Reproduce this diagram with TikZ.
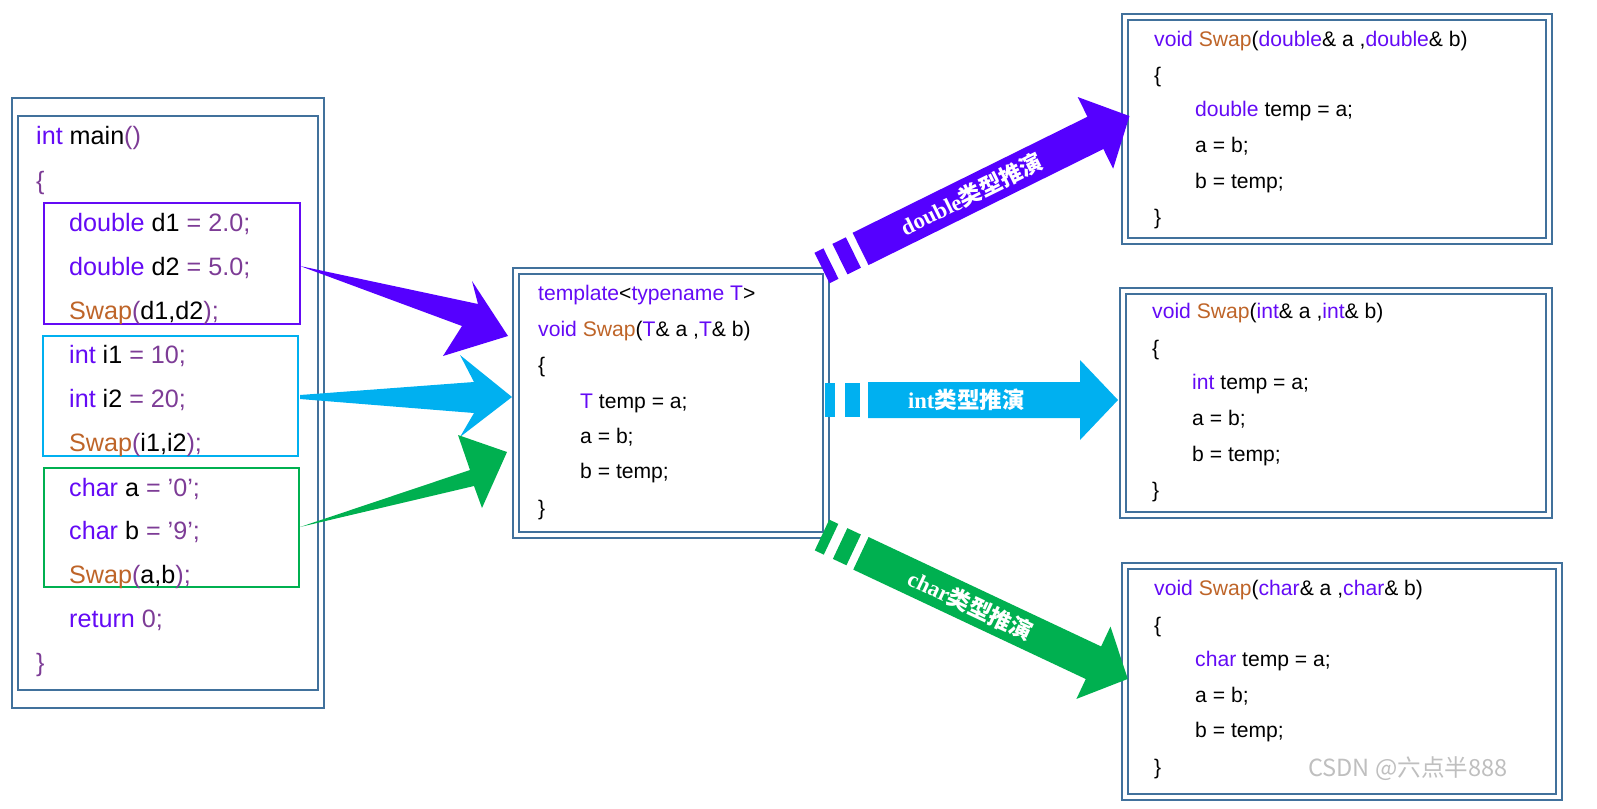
\documentclass[tikz,border=0pt]{standalone}
\usepackage{fontspec}
\setmainfont{Liberation Sans}
\newfontfamily\cjk{Noto Sans CJK SC}
\newfontfamily\lser{Liberation Serif}
\definecolor{kw}{RGB}{100,10,245}
\definecolor{num}{RGB}{125,60,150}
\definecolor{fn}{RGB}{190,100,40}
\definecolor{frame}{RGB}{65,113,156}
\definecolor{ap}{RGB}{85,0,255}
\definecolor{ac}{RGB}{0,176,240}
\definecolor{ag}{RGB}{0,176,80}
\newcommand{\K}[1]{\textcolor{kw}{#1}}
\newcommand{\N}[1]{\textcolor{num}{#1}}
\newcommand{\F}[1]{\textcolor{fn}{#1}}
\newcommand{\stripearrow}[4]{% length, colour, label, node name
  \fill[#2] (0,-17) rectangle (10,17);
  \fill[#2] (20,-17) rectangle (35,17);
  \fill[#2] (43,-18) -- (#1-38,-18) -- (#1-38,-40) -- (#1,0) -- (#1-38,40) -- (#1-38,18) -- (43,18) -- cycle;
  \node[transform shape,text=white,font=\bfseries\fontsize{23}{25}\selectfont] (#4) at ({(#1)/2-5},0) {#3};}
\begin{document}
\begin{tikzpicture}[x=1.018pt,y=-1.018pt,
  boxline/.style={draw=frame,line width=2.5pt},
  codeL/.style={anchor=base west,inner sep=0pt,font=\fontsize{25.6}{28}\selectfont},
  codeR/.style={anchor=base west,inner sep=0pt,font=\fontsize{21.5}{24}\selectfont}]
\useasboundingbox (0,0) rectangle (1597,808);
% left box
\draw[boxline] (12,98) rectangle (324,708);
\draw[boxline] (18,116) rectangle (318,690);
\draw[kw,line width=2.5pt] (44,203) rectangle (300,324);
\draw[ac,line width=2.5pt] (43,336) rectangle (298,456);
\draw[ag,line width=2.5pt] (44,468) rectangle (299,587);
\node[codeL] (l1) at (36,144) {\K{int} main\N{()}};
\node[codeL] (l2) at (36,189) {\N{\{}};
\node[codeL] (l3) at (69,231) {\K{double} d1 \N{= 2.0;}};
\node[codeL] (l4) at (69,275) {\K{double} d2 \N{= 5.0;}};
\node[codeL] (l5) at (69,319) {\F{Swap}\N{(}d1,d2\N{);}};
\node[codeL] (l6) at (69,363) {\K{int} i1 \N{= 10;}};
\node[codeL] (l7) at (69,407) {\K{int} i2 \N{= 20;}};
\node[codeL] (l8) at (69,451) {\F{Swap}\N{(}i1,i2\N{);}};
\node[codeL] (l9) at (69,496) {\K{char} a \N{= '0';}};
\node[codeL] (l10) at (69,539) {\K{char} b \N{= '9';}};
\node[codeL] (l11) at (69,583) {\F{Swap}\N{(}a,b\N{);}};
\node[codeL] (l12) at (69,627) {\K{return} \N{0;}};
\node[codeL] (l13) at (36,671) {\N{\}}};
% middle box
\draw[boxline] (513,268) rectangle (829,538);
\draw[boxline] (519,274) rectangle (823,532);
\node[codeR] (m1) at (538,300) {\K{template}<\K{typename T}>};
\node[codeR] (m2) at (538,336) {\K{void} \F{Swap}(\K{T}\& a ,\K{T}\& b)};
\node[codeR] (m3) at (538,372) {\{};
\node[codeR] (m4) at (580,408) {\K{T} temp = a;};
\node[codeR] (m5) at (580,443) {a = b;};
\node[codeR] (m6) at (580,478) {b = temp;};
\node[codeR] (m7) at (538,515) {\}};
% right boxes
\draw[boxline] (1122,14) rectangle (1552,244);
\draw[boxline] (1128,20) rectangle (1546,238);
\node[codeR] (a1) at (1154,46) {\K{void} \F{Swap}(\K{double}\& a ,\K{double}\& b)};
\node[codeR] (a2) at (1154,82) {\{};
\node[codeR] (a3) at (1195,116) {\K{double} temp = a;};
\node[codeR] (a4) at (1195,152) {a = b;};
\node[codeR] (a5) at (1195,188) {b = temp;};
\node[codeR] (a6) at (1154,224) {\}};
\draw[boxline] (1120,288) rectangle (1552,518);
\draw[boxline] (1126,294) rectangle (1546,512);
\node[codeR] (b1) at (1152,318) {\K{void} \F{Swap}(\K{int}\& a ,\K{int}\& b)};
\node[codeR] (b2) at (1152,355) {\{};
\node[codeR] (b3) at (1192,389) {\K{int} temp = a;};
\node[codeR] (b4) at (1192,425) {a = b;};
\node[codeR] (b5) at (1192,461) {b = temp;};
\node[codeR] (b6) at (1152,497) {\}};
\draw[boxline] (1122,563) rectangle (1562,800);
\draw[boxline] (1128,569) rectangle (1556,794);
\node[codeR] (c1) at (1154,595) {\K{void} \F{Swap}(\K{char}\& a ,\K{char}\& b)};
\node[codeR] (c2) at (1154,632) {\{};
\node[codeR] (c3) at (1195,666) {\K{char} temp = a;};
\node[codeR] (c4) at (1195,702) {a = b;};
\node[codeR] (c5) at (1195,737) {b = temp;};
\node[codeR] (c6) at (1154,774) {\}};
% left arrows
\fill[ap] (300,266) -- (478,304) -- (472,281) -- (508,336) -- (443,356) -- (462,326) -- cycle;
\fill[ac] (300,395) -- (474,382) -- (460,355) -- (512,397) -- (460,437) -- (474,413) -- (300,399) -- cycle;
\fill[ag] (300,527) -- (470,470) -- (458,435) -- (507,452) -- (482,508) -- (474,486) -- cycle;
% right arrows
\begin{scope}[shift={(822,268)},rotate=26.3]
\stripearrow{343}{ap}{{\lser double}{\cjk 类型推演}}{ta}
\end{scope}
\begin{scope}[shift={(825,400)}]
\stripearrow{293}{ac}{{\lser int}{\cjk 类型推演}}{tb}
\end{scope}
\begin{scope}[shift={(822,535)},rotate=-25.2]
\stripearrow{338}{ag}{{\lser char}{\cjk 类型推演}}{tc}
\end{scope}
\node[anchor=base west,inner sep=0pt,text=black!25,font=\cjk\fontsize{24}{26}\selectfont] (wm) at (1308,776) {CSDN @六点半888};
\end{tikzpicture}
\end{document}
